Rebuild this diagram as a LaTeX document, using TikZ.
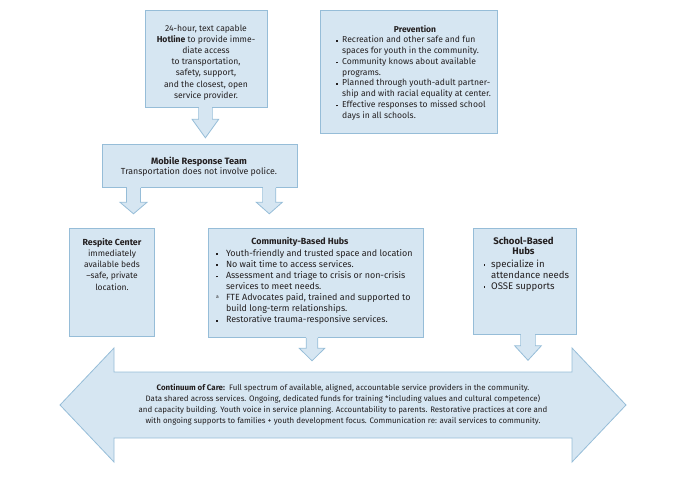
\documentclass[tikz,border=0pt]{standalone}
\usepackage{fontspec}
\setmainfont{Fira Sans}
\usetikzlibrary{calc}
\definecolor{boxfill}{RGB}{214,230,242}
\definecolor{boxline}{RGB}{150,189,216}
\definecolor{txt}{RGB}{35,31,32}
\newcommand{\sqb}{\raisebox{0.25ex}{\rule{1.7pt}{1.7pt}}}
\newcommand{\bl}[2][\sqb]{\makebox[#2][l]{#1}}
\newcommand{\supa}{\raisebox{0.55ex}{\fontsize{5}{5}\selectfont a}}
% block arrow pointing down: #1 start coordinate (box bottom centre), #2 shaft length,
% #3 head length, #4 shaft half width, #5 head half width
\newcommand{\dnarrow}[5]{%
  \fill[boxfill] ($(#1)+(-#4,-1.2)$) rectangle ($(#1)+(#4,#2)$);
  \draw[blk] ($(#1)+(-#4,0)$) -- ++(0,#2) -- ++(-#5+#4,0) -- ++(#5,#3) -- ++(#5,-#3) -- ++(-#5+#4,0) -- ++(0,-#2);
  \fill[boxfill] ($(#1)+(-#4+0.45,-1.2)$) rectangle ($(#1)+(#4-0.45,#2+0.5)$);}
\tikzset{
  box/.style={draw=boxline, fill=boxfill, line width=0.8pt, inner sep=0pt, anchor=north west},
  blk/.style={draw=boxline, fill=boxfill, line width=0.8pt, line join=miter},
  tx/.style={text=txt, inner sep=0pt, align=center},
  lst/.style={text=txt, inner sep=0pt, anchor=north west},
}
\begin{document}
\begin{tikzpicture}[x=1pt,y=-1pt]
\useasboundingbox (0,0) rectangle (680,481);

% boxes
\node[box, minimum width=122pt, minimum height=97pt] (hot) at (145,10) {};
\node[box, minimum width=177pt, minimum height=123pt] (prev) at (320,10) {};
\node[box, minimum width=195pt, minimum height=43pt] (mob) at (102,144) {};
\node[box, minimum width=85pt, minimum height=108pt] (resp) at (69,228) {};
\node[box, minimum width=215pt, minimum height=109pt] (comm) at (208,228) {};
\node[box, minimum width=103pt, minimum height=106pt] (school) at (473,228) {};

% block arrows
\coordinate (hotA) at ($(hot.south)+(-1,0)$);
\dnarrow{hotA}{11.5}{18.5}{6.7}{13.3}
\coordinate (mobL) at ($(mob.south west)+(31.5,0)$);
\dnarrow{mobL}{14.5}{11.5}{7}{13.5}
\coordinate (mobR) at ($(mob.south east)+(-28.5,0)$);
\dnarrow{mobR}{14.5}{11.5}{6.5}{13}
\coordinate (commA) at ($(comm.south west)+(104,0)$);
\dnarrow{commA}{10.5}{12.5}{5.8}{12.7}
\coordinate (schA) at ($(school.south west)+(55,0)$);
\dnarrow{schA}{11}{14.5}{7.2}{13.3}

% big double arrow
\draw[blk] (60,405) -- (114,348) -- (114,372) -- (572,372) -- (572,348) -- (626,405)
  -- (572,462) -- (572,438) -- (114,438) -- (114,462) -- cycle;
\coordinate (cont) at (343,384);

% texts
\node[tx, anchor=north, font=\fontsize{8.6}{11.2}\selectfont] (hotT) at (206,24.5)
  {24-hour, text capable\\\textbf{Hotline} to provide imme-\\diate access\\to transportation,\\safety, support,\\and the closest, open\\service provider.};

\node[tx, anchor=north, font=\fontsize{8.5}{10.75}\selectfont\bfseries] (prevT) at (415,25.5) {Prevention};
\node[lst, font=\fontsize{8.6}{10.75}\selectfont] (prevL) at (336,35.2)
  {\begin{tabular}{@{}l@{}l@{}}
   \bl{6pt} & Recreation and other safe and fun\\
            & spaces for youth in the community.\\
   \bl{6pt} & Community knows about available\\
            & programs.\\
   \bl{6pt} & Planned through youth-adult partner-\\
            & ship and with racial equality at center.\\
   \bl{6pt} & Effective responses to missed school\\
            & days in all schools.
   \end{tabular}};

\node[tx, anchor=north, font=\fontsize{8.8}{10.3}\selectfont] (mobT) at (199,156.5)
  {{\fontsize{9.2}{10.3}\selectfont\textbf{Mobile Response Team}}\\Transportation does not involve police.};

\node[tx, anchor=north, font=\fontsize{8.5}{11.2}\selectfont] (respT) at (112,238)
  {{\fontsize{8.8}{11.2}\selectfont\textbf{Respite Center}}\\immediately\\available beds\\–safe, private\\location.};

\node[tx, anchor=north, font=\fontsize{8.9}{11}\selectfont\bfseries] (commT) at (300,237) {Community-Based Hubs};
\node[lst, font=\fontsize{8.95}{11.1}\selectfont] (commL) at (215.8,248.3)
  {\begin{tabular}{@{}l@{}l@{}}
   \bl{10pt} & Youth-friendly and trusted space and location\\
   \bl{10pt} & No wait time to access services.\\
   \bl{10pt} & Assessment and triage to crisis or non-crisis\\
             & services to meet needs.\\
   \bl[\supa]{10pt} & FTE Advocates paid, trained and supported to\\
             & build long-term relationships.\\
   \bl{10pt} & Restorative trauma-responsive services.
   \end{tabular}};

\node[tx, anchor=north, font=\fontsize{9.6}{9.4}\selectfont\bfseries] (schT) at (523.5,237.5)
  {School-Based\\Hubs};
\node[lst, font=\fontsize{9.6}{11}\selectfont] (schL) at (483.3,259.3)
  {\begin{tabular}{@{}l@{}l@{}}
   \bl{7.7pt} & specialize in\\
              & attendance needs\\
   \bl{7.7pt} & OSSE supports
   \end{tabular}};

\node[tx, anchor=north, font=\fontsize{7.9}{11}\selectfont] (contT) at (cont)
  {\textbf{Continuum of Care:}\ \ Full spectrum of available, aligned, accountable service providers in the community.\\
   Data shared across services. Ongoing, dedicated funds for training *including values and cultural competence)\\
   and capacity building. Youth voice in service planning. Accountability to parents. Restorative practices at core and\\
   with ongoing supports to families + youth development focus. Communication re: avail services to community.};
\end{tikzpicture}
\end{document}
